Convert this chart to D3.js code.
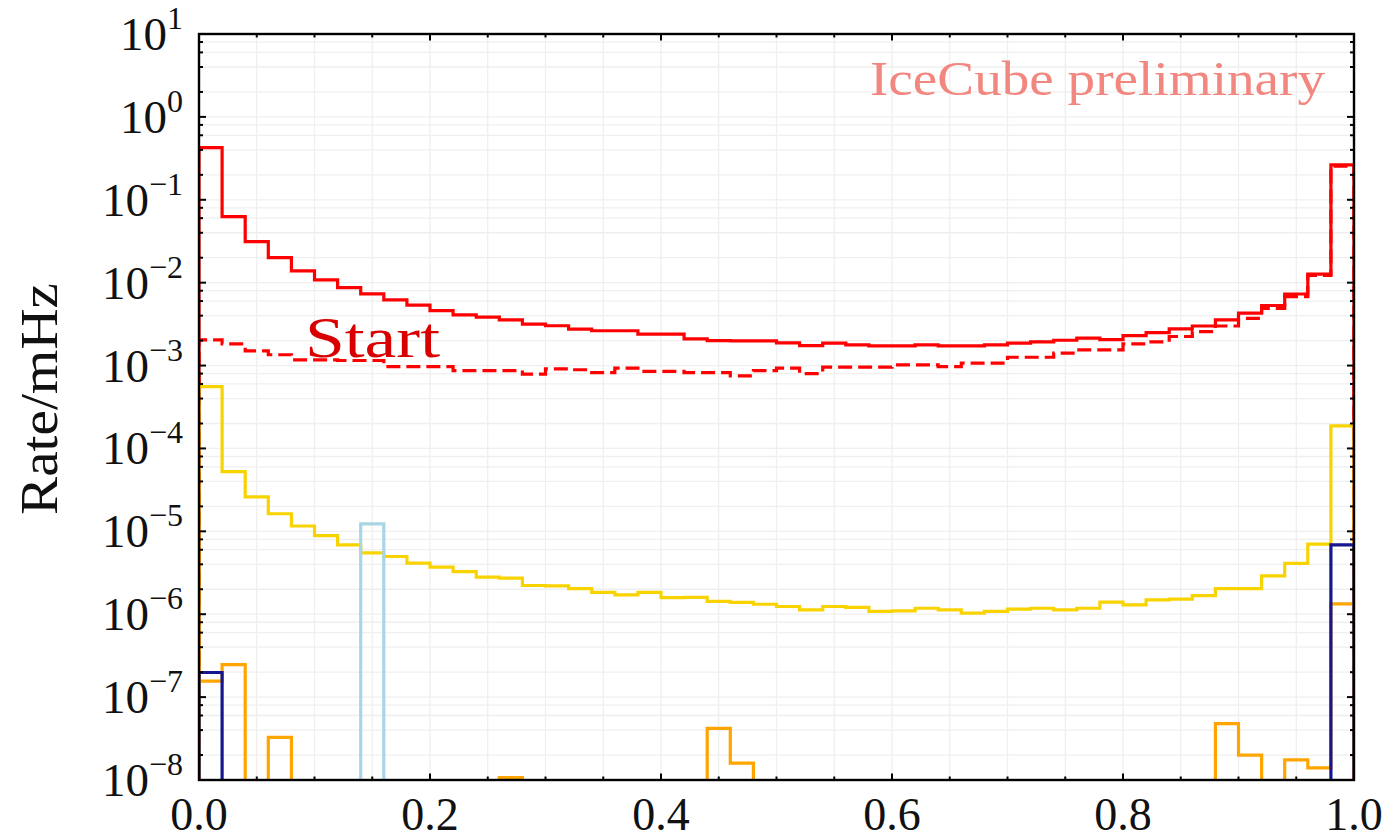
<!DOCTYPE html>
<html>
<head>
<meta charset="utf-8">
<script src="https://cdn.jsdelivr.net/npm/d3@7"></script>
<style>
  html, body { margin: 0; padding: 0; background: #ffffff; }
  svg { display: block; }
  text { font-family: "Liberation Serif", "DejaVu Serif", serif; }
</style>
</head>
<body>
<svg id="chart" width="1389" height="840"></svg>
<script>
// Histogram bins: 50 equal bins on [0, 1]
const binCount = 50;
const xDomain = [0, 1];

// Rates per bin (mHz)
const startAll = [0.426, 0.0627, 0.0313, 0.0201, 0.0139, 0.0108, 0.00873, 0.00733, 0.0062, 0.00535,
  0.00461, 0.00409, 0.00384, 0.00356, 0.00316, 0.00302, 0.00275, 0.00263, 0.00263, 0.0024,
  0.0024, 0.0021, 0.0020, 0.00198, 0.00198, 0.00188, 0.00174, 0.00186, 0.00178, 0.00173,
  0.00173, 0.00178, 0.00173, 0.00173, 0.00178, 0.00186, 0.00193, 0.00202, 0.00214, 0.00205,
  0.0023, 0.0025, 0.00277, 0.0030, 0.00356, 0.00429, 0.0053, 0.0073, 0.01265, 0.264];

const startSelected = [0.00204, 0.00183, 0.0015, 0.00135, 0.00117, 0.00117, 0.00115, 0.00115, 0.00097, 0.00097,
  0.00097, 0.00087, 0.00087, 0.00087, 0.00079, 0.00091, 0.00089, 0.00082, 0.00093, 0.00085,
  0.00085, 0.00082, 0.00082, 0.00075, 0.00087, 0.00093, 0.0008, 0.00096, 0.00096, 0.00096,
  0.00102, 0.00102, 0.00097, 0.00107, 0.00107, 0.00126, 0.00126, 0.00141, 0.00155, 0.00155,
  0.00183, 0.00193, 0.00224, 0.00257, 0.0030, 0.0037, 0.0049, 0.0068, 0.0122, 0.255];

const goldSeries = [5.58e-4, 5.26e-5, 2.6e-5, 1.63e-5, 1.16e-5, 8.9e-6, 6.88e-6, 5.5e-6, 4.97e-6, 4.13e-6,
  3.7e-6, 3.27e-6, 2.8e-6, 2.72e-6, 2.22e-6, 2.2e-6, 2.04e-6, 1.83e-6, 1.71e-6, 1.83e-6,
  1.59e-6, 1.6e-6, 1.43e-6, 1.39e-6, 1.32e-6, 1.24e-6, 1.13e-6, 1.24e-6, 1.21e-6, 1.08e-6,
  1.1e-6, 1.18e-6, 1.13e-6, 1.03e-6, 1.08e-6, 1.15e-6, 1.18e-6, 1.13e-6, 1.18e-6, 1.4e-6,
  1.3e-6, 1.49e-6, 1.52e-6, 1.68e-6, 2.04e-6, 2.04e-6, 2.9e-6, 4.1e-6, 7.0e-6, 1.87e-4];

const lightBlueSeries = [0, 0, 0, 0, 0, 0, 0, 1.23e-5, 0, 0,
  0, 0, 0, 0, 0, 0, 0, 0, 0, 0,
  0, 0, 0, 0, 0, 0, 0, 0, 0, 0,
  0, 0, 0, 0, 0, 0, 0, 0, 0, 0,
  0, 0, 0, 0, 0, 0, 0, 0, 0, 0];

const orangeSeries = [1.56e-7, 2.46e-7, 0, 3.27e-8, 0, 0, 0, 0, 0, 0,
  0, 0, 0, 1.07e-8, 0, 0, 0, 0, 0, 0,
  0, 0, 4.2e-8, 1.6e-8, 0, 0, 0, 0, 0, 0,
  0, 0, 0, 0, 0, 0, 0, 0, 0, 0,
  0, 0, 0, 0, 4.8e-8, 2.0e-8, 0, 1.75e-8, 1.4e-8, 1.33e-6];

const navySeries = [1.98e-7, 0, 0, 0, 0, 0, 0, 0, 0, 0,
  0, 0, 0, 0, 0, 0, 0, 0, 0, 0,
  0, 0, 0, 0, 0, 0, 0, 0, 0, 0,
  0, 0, 0, 0, 0, 0, 0, 0, 0, 0,
  0, 0, 0, 0, 0, 0, 0, 0, 0, 6.87e-6];

// Axis tick labels
const xTickLabels = ["0.0", "0.2", "0.4", "0.6", "0.8", "1.0"];
const yDecadeExponents = [1, 0, -1, -2, -3, -4, -5, -6, -7, -8];

// Plot geometry
const plot = { left: 199, right: 1354, top: 34, bottom: 780 };

const svg = d3.select("#chart");
const x = d3.scaleLinear().domain(xDomain).range([plot.left, plot.right]);
const y = d3.scaleLog().domain([1e-8, 1e1]).range([plot.bottom, plot.top]);

const binWidth = (xDomain[1] - xDomain[0]) / binCount;
const minorSubs = [2, 4, 6, 8];
const yDecades = yDecadeExponents.map(e => Math.pow(10, e));
const yMinor = [];
yDecades.forEach(d => { if (d < 10) minorSubs.forEach(s => yMinor.push(d * s)); });
const xMinor = d3.range(0, 21).map(i => i * 0.05);
const xMajor = xTickLabels.map(Number);

// Grid
const grid = svg.append("g").attr("stroke", "#efefef").attr("stroke-width", 1.3);
xMinor.forEach(v => {
  grid.append("line").attr("x1", x(v)).attr("x2", x(v)).attr("y1", plot.top).attr("y2", plot.bottom);
});
yDecades.concat(yMinor).forEach(v => {
  grid.append("line").attr("x1", plot.left).attr("x2", plot.right).attr("y1", y(v)).attr("y2", y(v));
});

// Clip region for the histograms
svg.append("clipPath").attr("id", "plotClip")
  .append("rect").attr("x", plot.left).attr("y", plot.top)
  .attr("width", plot.right - plot.left).attr("height", plot.bottom - plot.top);

// Step outline of a histogram (matplotlib "step" style)
const floorValue = 1e-10;
function stepPoints(values) {
  const pts = [[x(0), y(floorValue)]];
  values.forEach((v, i) => {
    const vv = v > 0 ? v : floorValue;
    pts.push([x(i * binWidth), y(vv)]);
    pts.push([x((i + 1) * binWidth), y(vv)]);
  });
  pts.push([x(binCount * binWidth), y(floorValue)]);
  return pts;
}
const line = d3.line();

const layers = [
  { values: startAll, color: "#ff0000", dash: null },
  { values: startSelected, color: "#ff0000", dash: "14,6" },
  { values: goldSeries, color: "#f9d300", dash: null },
  { values: lightBlueSeries, color: "#a9d6e5", dash: null },
  { values: orangeSeries, color: "#ffa500", dash: null },
  { values: navySeries, color: "#16168f", dash: null }
];

const hist = svg.append("g").attr("clip-path", "url(#plotClip)");
layers.forEach(l => {
  hist.append("path")
    .attr("d", line(stepPoints(l.values)))
    .attr("fill", "none")
    .attr("stroke", l.color)
    .attr("stroke-width", 3.2)
    .attr("stroke-linejoin", "miter")
    .attr("stroke-dasharray", l.dash);
});

// Frame
svg.append("rect")
  .attr("x", plot.left).attr("y", plot.top)
  .attr("width", plot.right - plot.left).attr("height", plot.bottom - plot.top)
  .attr("fill", "none").attr("stroke", "#000").attr("stroke-width", 2.4);

// Inward ticks on all four sides
const ticks = svg.append("g").attr("stroke", "#000").attr("stroke-width", 2);
function vTick(v, len) {
  ticks.append("line").attr("x1", plot.left).attr("x2", plot.left + len).attr("y1", y(v)).attr("y2", y(v));
  ticks.append("line").attr("x1", plot.right).attr("x2", plot.right - len).attr("y1", y(v)).attr("y2", y(v));
}
function hTick(v, len) {
  ticks.append("line").attr("y1", plot.bottom).attr("y2", plot.bottom - len).attr("x1", x(v)).attr("x2", x(v));
  ticks.append("line").attr("y1", plot.top).attr("y2", plot.top + len).attr("x1", x(v)).attr("x2", x(v));
}
yDecades.forEach(v => vTick(v, 7));
yMinor.forEach(v => vTick(v, 4));
xMinor.forEach(v => hTick(v, 3.5));
xMajor.forEach(v => hTick(v, 6.5));

// Y tick labels: 10^n
yDecadeExponents.forEach(e => {
  const t = svg.append("text")
    .attr("x", 183).attr("y", y(Math.pow(10, e)) + 16)
    .attr("text-anchor", "end")
    .attr("fill", "#111")
    .attr("font-size", 47);
  t.append("tspan").text("10");
  t.append("tspan").attr("dy", -21).attr("font-size", 32)
    .text(e < 0 ? "\u2212" + Math.abs(e) : String(e));
});

// X tick labels
xTickLabels.forEach(s => {
  svg.append("text")
    .attr("x", x(+s)).attr("y", 830)
    .attr("text-anchor", "middle")
    .attr("fill", "#111")
    .attr("font-size", 46)
    .text(s);
});

// Y axis title
svg.append("text")
  .attr("transform", "translate(57,399) rotate(-90)")
  .attr("text-anchor", "middle")
  .attr("fill", "#111")
  .attr("font-size", 52)
  .attr("textLength", 232)
  .attr("lengthAdjust", "spacingAndGlyphs")
  .text("Rate/mHz");

// Annotations
svg.append("text")
  .attr("x", 305).attr("y", 357)
  .attr("fill", "#d80000")
  .attr("font-size", 58)
  .attr("textLength", 135)
  .attr("lengthAdjust", "spacingAndGlyphs")
  .text("Start");

svg.append("text")
  .attr("x", 870).attr("y", 95)
  .attr("fill", "#f2877f")
  .attr("font-size", 48)
  .attr("textLength", 455)
  .attr("lengthAdjust", "spacingAndGlyphs")
  .text("IceCube preliminary");
</script>
</body>
</html>
